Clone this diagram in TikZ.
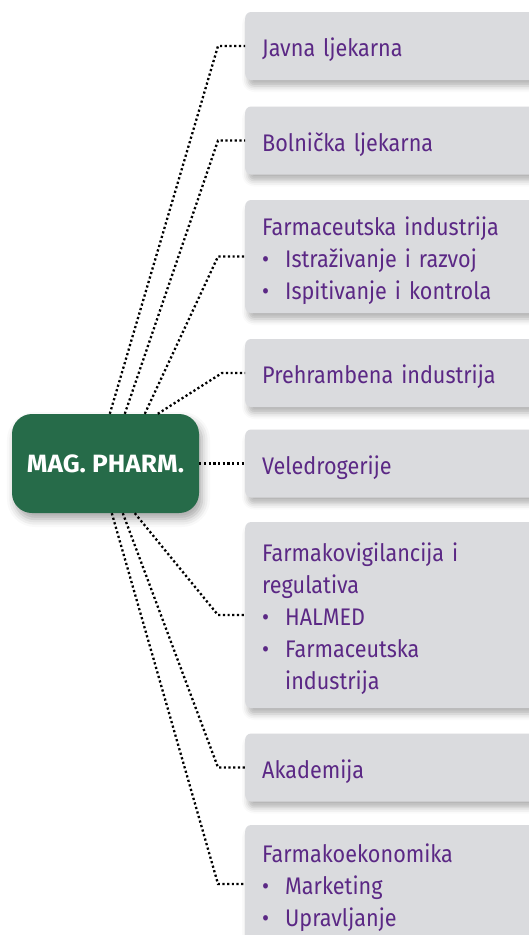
\documentclass[tikz,border=0pt]{standalone}
\usepackage{xcolor}
\usepackage{fontspec}
\setmainfont[FakeStretch=0.9]{Fira Sans}
\newfontfamily\hubfont[FakeStretch=1.05]{Fira Sans}
\usetikzlibrary{shadows.blur}

\definecolor{hubgreen}{RGB}{38,107,73}
\definecolor{textpurple}{RGB}{91,40,133}
\definecolor{boxgray}{RGB}{218,219,222}

\newcommand{\stavka}[1]{\makebox[23pt][l]{\textbullet}#1}

\tikzset{
    area/.style={fill=boxgray, rounded corners=6pt, anchor=west, text width=270pt,
        inner xsep=17pt, inner ysep=0pt, minimum height=68pt, align=left,
        text=textpurple, font=\fontsize{24}{32}\selectfont,
        execute at begin node={\leavevmode\vrule width 0pt height 27pt},
        blur shadow={shadow xshift=3pt, shadow yshift=-6pt, shadow blur radius=6pt, shadow opacity=30}},
    hub/.style={fill=hubgreen, rounded corners=20pt, minimum width=187pt, minimum height=99pt,
        text=white, font=\hubfont\fontsize{25}{28}\selectfont\bfseries,
        blur shadow={shadow xshift=3pt, shadow yshift=-6pt, shadow blur radius=8pt, shadow opacity=35}},
    link/.style={line width=2.3pt, dash pattern=on 2.2pt off 2.5pt}
}

\begin{document}
\begin{tikzpicture}[x=1pt, y=-1pt]
            \useasboundingbox (0,0) rectangle (528,935);
            \node[hub] (mag) at (105.5,463.5) {MAG. PHARM.};
            \node[area] (javna) at (245,46) {Javna ljekarna};
            \node[area] (bolnicka) at (245,140.5) {Bolnička ljekarna};
            \node[area, minimum height=113pt] (industrija) at (245,256.5) {Farmaceutska industrija\\
                \stavka{Istraživanje i razvoj}\\
                \stavka{Ispitivanje i kontrola}};
            \node[area] (prehrambena) at (245,373) {Prehrambena industrija};
            \node[area] (veledrogerije) at (245,463.5) {Veledrogerije};
            \node[area, minimum height=186pt] (vigilancija) at (245,615) {Farmakovigilancija i\\
                regulativa\\
                \stavka{HALMED}\\
                \stavka{Farmaceutska}\\
                \hspace*{23pt}industrija};
            \node[area] (akademija) at (245,767.5) {Akademija};
            \node[area, minimum height=118pt] (ekonomika) at (245,884) {Farmakoekonomika\\
                \stavka{Marketing}\\
                \stavka{Upravljanje}};

            \draw[link] ([xshift=98pt]mag.north west) -- ([xshift=-27pt]javna.west) -- (javna.west);
            \draw[link] ([xshift=113pt]mag.north west) -- ([xshift=-27pt]bolnicka.west) -- (bolnicka.west);
            \draw[link] ([xshift=133pt]mag.north west) -- ([xshift=-27pt]industrija.west) -- (industrija.west);
            \draw[link] ([xshift=146pt]mag.north west) -- ([xshift=-23pt]prehrambena.west) -- (prehrambena.west);
            \draw[link] (mag.east) -- (veledrogerije.west);
            \draw[link] ([xshift=123pt]mag.south west) -- ([xshift=-27pt]vigilancija.west) -- (vigilancija.west);
            \draw[link] ([xshift=111pt]mag.south west) -- ([xshift=-27pt]akademija.west) -- (akademija.west);
            \draw[link] ([xshift=100pt]mag.south west) -- ([xshift=-27pt]ekonomika.west) -- (ekonomika.west);
\end{tikzpicture}
\end{document}
